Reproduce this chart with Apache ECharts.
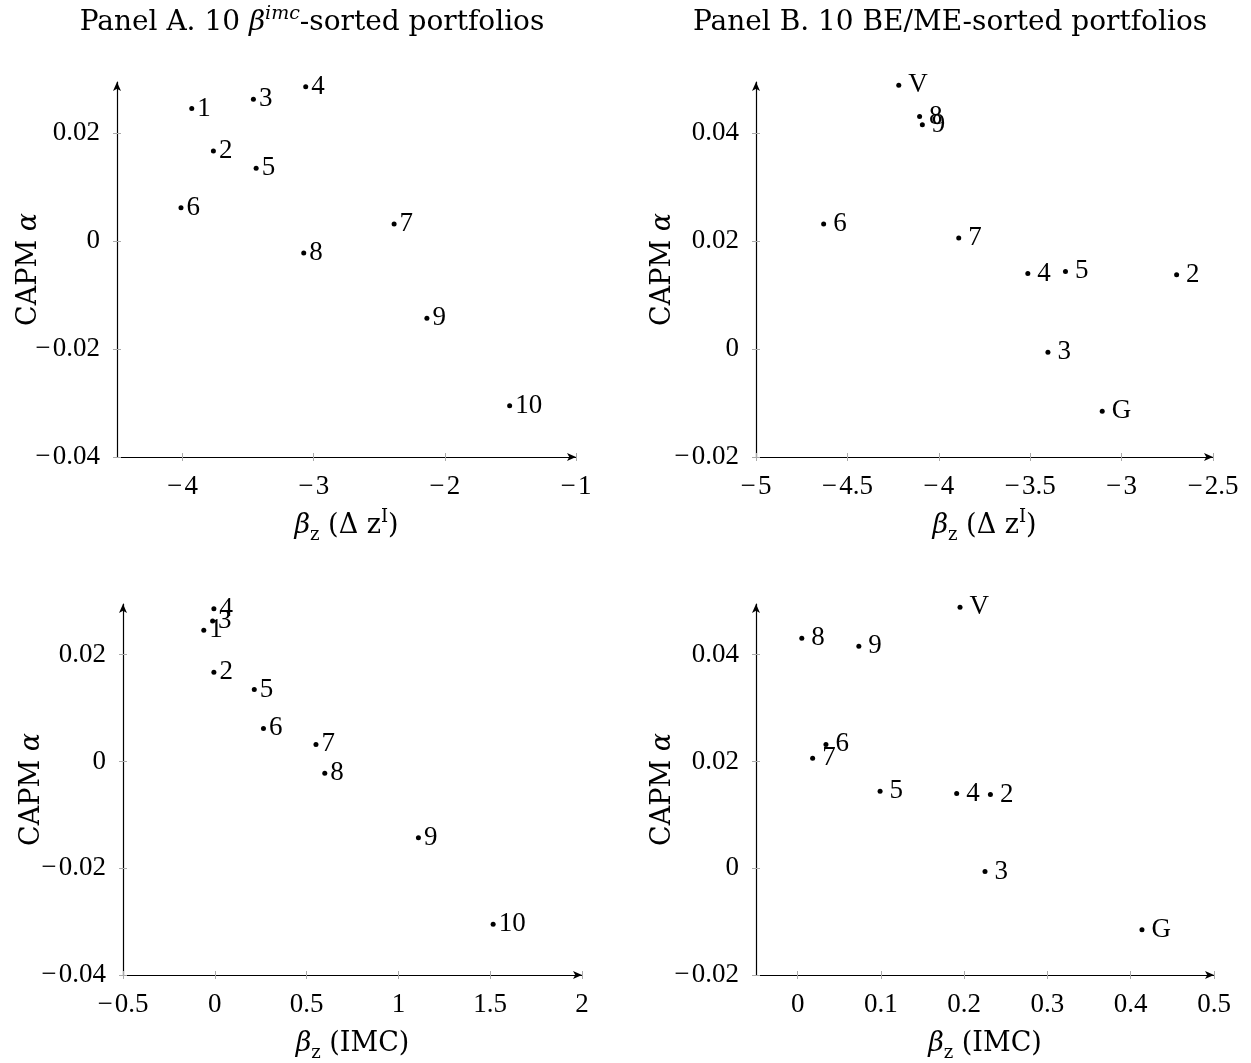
<!DOCTYPE html>
<html>
<head>
<meta charset="utf-8">
<script src="https://cdn.jsdelivr.net/npm/echarts@6/dist/echarts.min.js"></script>
<style>
  html, body { margin: 0; padding: 0; background: #fff; }
  #chart { width: 1251px; height: 1063px; }
</style>
</head>
<body>
<div id="chart"></div>
<script>
  // Panel A: 10 beta^imc-sorted portfolios
  var labelsA = ['1', '2', '3', '4', '5', '6', '7', '8', '9', '10']
  var alphaA = [0.0246, 0.0167, 0.0263, 0.0286, 0.0135, 0.0062, 0.0032, -0.0022, -0.0143, -0.0305]
  var betaDzA = [-3.93, -3.765, -3.46, -3.061, -3.439, -4.012, -2.387, -3.076, -2.137, -1.506]
  var betaImcA = [-0.06, -0.005, -0.012, -0.005, 0.215, 0.265, 0.551, 0.599, 1.109, 1.516]

  // Panel B: 10 BE/ME-sorted portfolios
  var labelsB = ['V', '8', '9', '6', '7', '4', '5', '2', '3', 'G']
  var alphaB = [0.0489, 0.0431, 0.0416, 0.0232, 0.0206, 0.0140, 0.0144, 0.0138, -0.0006, -0.0115]
  var betaDzB = [-4.219, -4.105, -4.090, -4.630, -3.891, -3.513, -3.307, -2.699, -3.403, -3.106]
  var betaImcB = [0.195, 0.005, 0.0735, 0.034, 0.018, 0.191, 0.099, 0.2315, 0.225, 0.4135]

  // tick labels
  var ticksDzA = [-4, -3, -2, -1]
  var ticksImcA = [-0.5, 0, 0.5, 1, 1.5, 2]
  var ticksDzB = [-5, -4.5, -4, -3.5, -3, -2.5]
  var ticksImcB = [0, 0.1, 0.2, 0.3, 0.4, 0.5]
  var ticksAlphaA = [-0.04, -0.02, 0, 0.02]
  var ticksAlphaB = [-0.02, 0, 0.02, 0.04]

  var font = '"Liberation Serif", serif'
  var textFont = '"DejaVu Serif", "Liberation Serif", serif'
  var fs = 27

  // minus sign like TeX, a bit wider
  function fmt (v) {
    return v < 0 ? '\u2212\u200a' + Math.abs(v) : String(v)
  }

  var nameRich = {
    b: { fontFamily: textFont, fontSize: 27, fontStyle: 'italic', lineHeight: 36, color: '#000' },
    s: { fontFamily: textFont, fontSize: 18, lineHeight: 36, verticalAlign: 'bottom', color: '#000' },
    p: { fontFamily: textFont, fontSize: 18, lineHeight: 36, verticalAlign: 'top', color: '#000' },
    t: { fontFamily: textFont, fontSize: 27, lineHeight: 36, color: '#000' }
  }
  var dzName = '{b|β}{s|z}{t| (Δ z}{p|I}{t|)}'
  var imcName = '{b|β}{s|z}{t| (IMC)}'
  var alphaName = '{t|CAPM }{b|α}'

  var grids = [
    { left: 117, top: 82, width: 459, height: 375 },
    { left: 756, top: 82, width: 457, height: 375 },
    { left: 123, top: 604, width: 459, height: 375 },
    { left: 756, top: 604, width: 458, height: 375 }
  ]

  var tickStyle = { color: '#aaa', width: 1 }
  var lineStyle = { color: '#000', width: 1.2 }

  function makeX (i, min, max, ticks, name) {
    return {
      type: 'value', gridIndex: i, min: min, max: max, position: 'bottom',
      name: name, nameLocation: 'middle', nameGap: 51,
      nameTextStyle: { rich: nameRich },
      splitLine: { show: false },
      axisLine: { onZero: false, symbol: ['none', 'arrow'], symbolSize: [6, 9], lineStyle: lineStyle },
      axisTick: { customValues: ticks, length: 4, lineStyle: tickStyle },
      axisLabel: { customValues: ticks, formatter: fmt, margin: 16, fontFamily: font, fontSize: fs, color: '#000' }
    }
  }

  function makeY (i, min, max, ticks, gap) {
    return {
      type: 'value', gridIndex: i, min: min, max: max, position: 'left',
      name: alphaName, nameLocation: 'middle', nameGap: gap, nameMoveOverlap: false,
      nameTextStyle: { rich: nameRich },
      splitLine: { show: false },
      axisLine: { onZero: false, symbol: ['none', 'arrow'], symbolSize: [6, 9], lineStyle: lineStyle },
      axisTick: { customValues: ticks, length: 4, lineStyle: tickStyle },
      axisLabel: { customValues: ticks, formatter: fmt, margin: 17, fontFamily: font, fontSize: fs, color: '#000' }
    }
  }

  // second axis on the same grid only to draw the inner half of each tick
  function innerTicks (axis) {
    return {
      type: 'value', gridIndex: axis.gridIndex, min: axis.min, max: axis.max,
      position: axis.position,
      splitLine: { show: false },
      axisLine: { show: false, onZero: false },
      axisLabel: { show: false },
      axisTick: { inside: true, customValues: axis.axisTick.customValues, length: 4, lineStyle: tickStyle }
    }
  }

  function points (xs, ys, labels) {
    return xs.map(function (x, k) { return [x, ys[k], labels[k]] })
  }

  function makeSeries (i, data, gap) {
    return {
      type: 'scatter', xAxisIndex: i, yAxisIndex: i,
      data: data, symbolSize: 5,
      itemStyle: { color: '#000', opacity: 1 },
      label: {
        show: true, position: 'right', distance: gap,
        formatter: function (p) { return p.value[2] },
        fontFamily: font, fontSize: fs, color: '#000', opacity: 1
      },
      emphasis: { disabled: true }
    }
  }

  var xAxes = [
    makeX(0, -4.5, -1, ticksDzA, dzName),
    makeX(1, -5, -2.5, ticksDzB, dzName),
    makeX(2, -0.5, 2, ticksImcA, imcName),
    makeX(3, -0.05, 0.5, ticksImcB, imcName)
  ]
  var yAxes = [
    makeY(0, -0.04, 0.0295, ticksAlphaA, 70),
    makeY(1, -0.02, 0.0495, ticksAlphaB, 75),
    makeY(2, -0.04, 0.0295, ticksAlphaA, 73),
    makeY(3, -0.02, 0.0495, ticksAlphaB, 75)
  ]

  var chart = echarts.init(document.getElementById('chart'), null, { renderer: 'canvas' })
  chart.setOption({
    backgroundColor: '#fff',
    animation: false,
    title: [
      {
        text: 'Panel A. 10 {b|β}{p|imc}{t|-sorted portfolios}',
        left: 307, top: 0, textAlign: 'center',
        textStyle: {
          fontFamily: textFont, fontSize: 28, fontWeight: 'normal', color: '#000',
          rich: {
            b: { fontFamily: textFont, fontSize: 28, fontStyle: 'italic', lineHeight: 36, color: '#000' },
            t: { fontFamily: textFont, fontSize: 28, lineHeight: 36, color: '#000' },
            p: { fontFamily: textFont, fontSize: 19, fontStyle: 'italic', lineHeight: 36, verticalAlign: 'top', color: '#000' }
          }
        }
      },
      {
        text: 'Panel B. 10 BE/ME-sorted portfolios',
        left: 945, top: 0, textAlign: 'center',
        textStyle: { fontFamily: textFont, fontSize: 28, fontWeight: 'normal', color: '#000', lineHeight: 36 }
      }
    ],
    grid: grids,
    xAxis: xAxes.concat(xAxes.map(innerTicks)),
    yAxis: yAxes.concat(yAxes.map(innerTicks)),
    series: [
      makeSeries(0, points(betaDzA, alphaA, labelsA), 3),
      makeSeries(1, points(betaDzB, alphaB, labelsB), 7),
      makeSeries(2, points(betaImcA, alphaA, labelsA), 3),
      makeSeries(3, points(betaImcB, alphaB, labelsB), 7)
    ]
  })
</script>
</body>
</html>
